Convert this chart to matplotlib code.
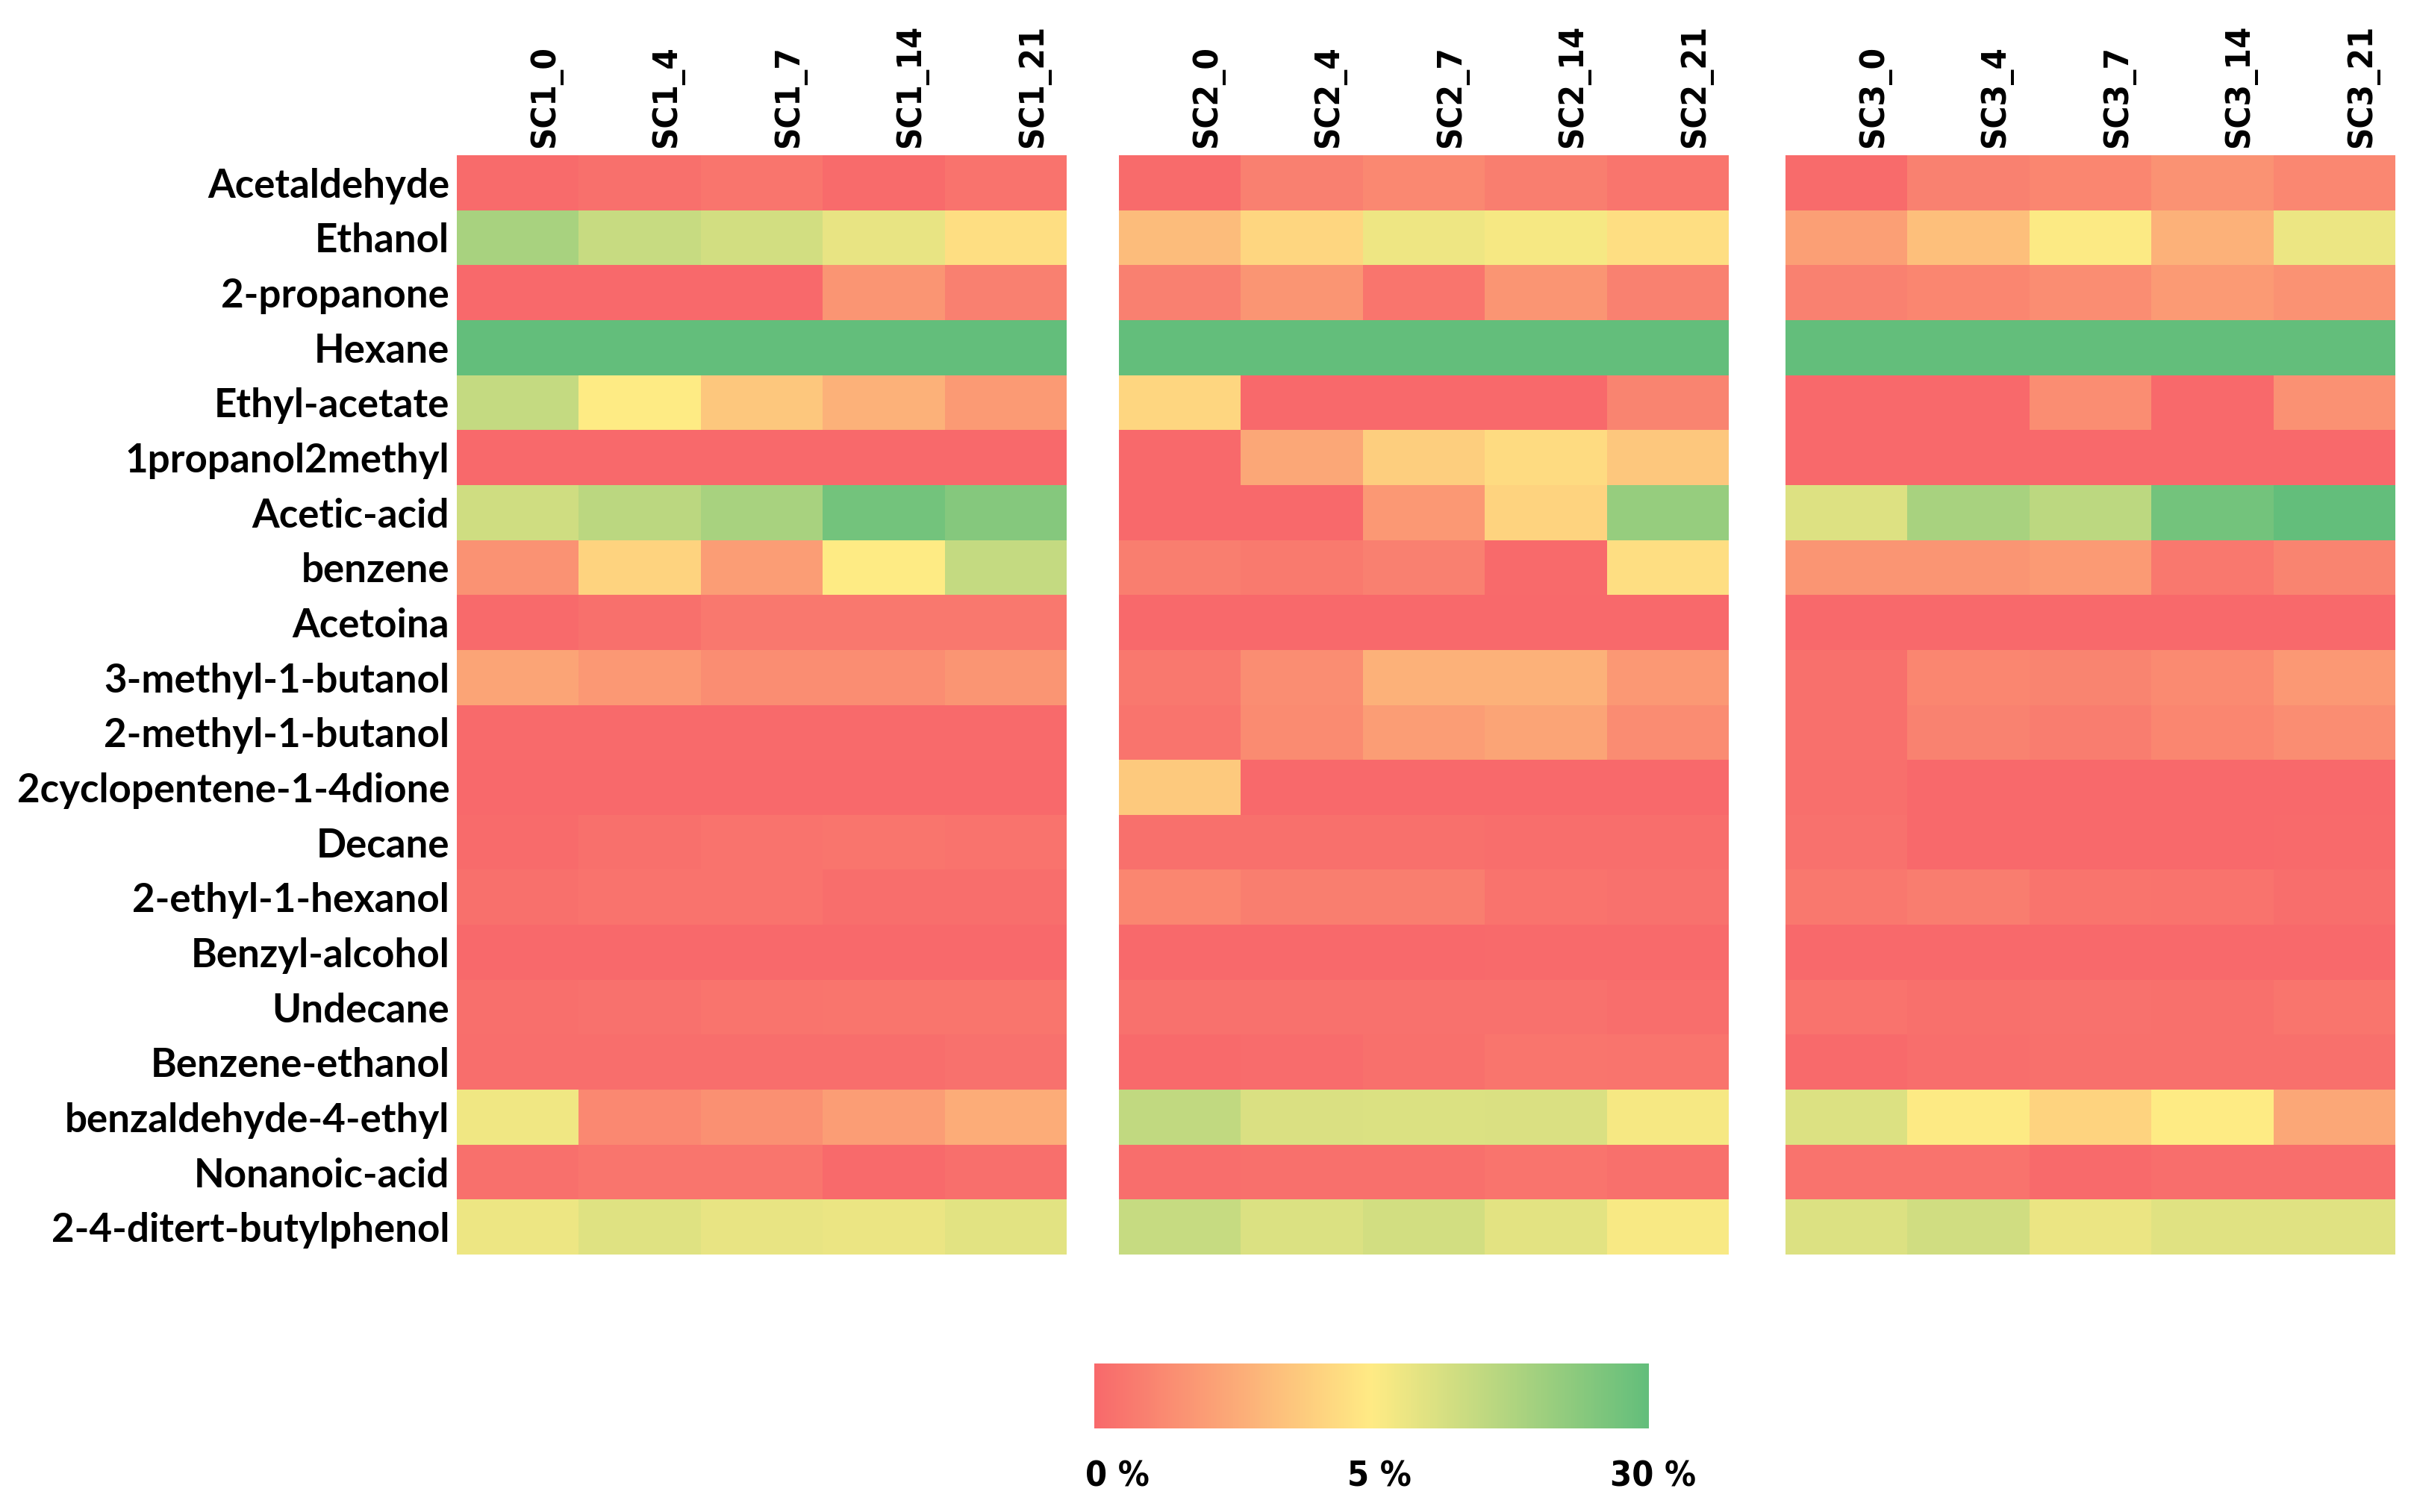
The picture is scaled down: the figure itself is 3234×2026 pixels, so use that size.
import numpy as np
import matplotlib
matplotlib.use("Agg")
import matplotlib.pyplot as plt
from matplotlib.colors import LinearSegmentedColormap, TwoSlopeNorm
from matplotlib import font_manager as fm

compounds = ["Acetaldehyde", "Ethanol", "2-propanone", "Hexane", "Ethyl-acetate",
             "1propanol2methyl", "Acetic-acid", "benzene", "Acetoina",
             "3-methyl-1-butanol", "2-methyl-1-butanol", "2cyclopentene-1-4dione",
             "Decane", "2-ethyl-1-hexanol", "Benzyl-alcohol", "Undecane",
             "Benzene-ethanol", "benzaldehyde-4-ethyl", "Nonanoic-acid",
             "2-4-ditert-butylphenol"]
groups = ["SC1", "SC2", "SC3"]
days = ["0", "4", "7", "14", "21"]

# relative abundance (%)
sc1 = [
    [0.1, 0.3, 0.5, 0.1, 0.4],
    [19, 13.8, 12.2, 8.7, 4.5],
    [0, 0, 0, 1.7, 0.9],
    [30, 30, 30, 30, 30],
    [14.5, 5.0, 3.6, 2.8, 1.9],
    [0, 0, 0, 0, 0],
    [12.8, 15.8, 19, 27.4, 24.5],
    [1.6, 4.1, 2.0, 5.0, 14.5],
    [0.05, 0.3, 0.6, 0.6, 0.6],
    [2.3, 1.8, 1.4, 1.4, 1.7],
    [0.05, 0.05, 0.05, 0.05, 0.05],
    [0, 0, 0, 0, 0],
    [0.1, 0.3, 0.4, 0.5, 0.4],
    [0.3, 0.4, 0.4, 0.2, 0.2],
    [0, 0, 0, 0, 0],
    [0.25, 0.35, 0.45, 0.5, 0.5],
    [0.2, 0.2, 0.2, 0.2, 0.35],
    [7.5, 1.2, 1.5, 2.0, 2.6],
    [0.3, 0.5, 0.5, 0.05, 0.25],
    [7.8, 10.2, 8.7, 8.3, 9.6],
]
sc2 = [
    [0.1, 0.9, 1.2, 0.85, 0.5],
    [3.2, 4.2, 7.7, 6.5, 4.5],
    [0.9, 1.7, 0.5, 1.7, 0.95],
    [30, 30, 30, 30, 30],
    [4.2, 0, 0, 0, 1.05],
    [0, 2.4, 3.9, 4.4, 3.6],
    [0, 0, 1.8, 4.1, 21.7],
    [0.85, 0.7, 0.9, 0.05, 4.5],
    [0, 0, 0, 0, 0],
    [0.6, 1.4, 2.8, 2.8, 1.8],
    [0.45, 1.3, 2.0, 2.3, 1.35],
    [3.7, 0, 0, 0, 0],
    [0.3, 0.3, 0.3, 0.2, 0.2],
    [1.1, 0.85, 0.85, 0.4, 0.35],
    [0, 0, 0, 0.05, 0.05],
    [0.35, 0.35, 0.35, 0.35, 0.2],
    [0.05, 0.15, 0.3, 0.5, 0.45],
    [14.8, 11, 10.8, 11, 6.5],
    [0.2, 0.3, 0.3, 0.45, 0.3],
    [14, 10.7, 12.2, 9.3, 6],
]
sc3 = [
    [0.1, 0.95, 1.1, 1.6, 1.15],
    [2.1, 3.3, 5.4, 2.8, 8],
    [0.95, 1.1, 1.4, 1.9, 1.6],
    [30, 30, 30, 30, 30],
    [0, 0, 1.4, 0, 1.55],
    [0, 0, 0, 0, 0],
    [10.3, 19, 15.6, 27.4, 30],
    [1.7, 1.7, 1.9, 0.6, 1.05],
    [0, 0, 0, 0, 0],
    [0.3, 1.1, 1.05, 1.25, 1.8],
    [0.3, 1.0, 0.8, 1.1, 1.4],
    [0.25, 0, 0, 0, 0],
    [0.35, 0, 0, 0, 0.05],
    [0.6, 0.8, 0.45, 0.4, 0.2],
    [0, 0, 0, 0, 0],
    [0.4, 0.3, 0.35, 0.3, 0.5],
    [0.05, 0.2, 0.3, 0.3, 0.3],
    [10.5, 5.2, 4.1, 5, 2.4],
    [0.4, 0.4, 0.05, 0.2, 0.2],
    [10.5, 12.5, 8.2, 10, 10],
]
scale_ticks = [0, 5, 30]
scale_labels = ["0 %", "5 %", "30 %"]

# ---------------- styling ----------------
names = {f.name for f in fm.fontManager.ttflist}
row_font = "Lato" if "Lato" in names else "Open Sans"
if "Liberation Sans Narrow" in names:
    narrow_kw = dict(family="Liberation Sans Narrow")
else:
    narrow_kw = dict(family="DejaVu Sans", fontstretch="condensed")

cmap = LinearSegmentedColormap.from_list("excel3", ["#F8696B", "#FFEB84", "#63BE7B"])
norm = TwoSlopeNorm(vmin=scale_ticks[0], vcenter=scale_ticks[1], vmax=scale_ticks[2])

W, H = 3234, 2026
fig = plt.figure(figsize=(W / 100, H / 100), dpi=100)
fig.patch.set_facecolor("white")

panel_left = [612, 1499, 2392]
panel_w = 817
top_px, bot_px = 208, 1681

mesh = None
col_texts = []
row_texts = []
for gi, (g, data, left) in enumerate(zip(groups, [sc1, sc2, sc3], panel_left)):
    ax = fig.add_axes([left / W, 1 - bot_px / H, panel_w / W, (bot_px - top_px) / H])
    arr = np.array(data, dtype=float)
    mesh = ax.pcolormesh(arr, cmap=cmap, norm=norm, edgecolors="none",
                         linewidth=0, antialiased=False)
    ax.set_xlim(0, len(days))
    ax.set_ylim(len(compounds), 0)
    ax.axis("off")
    for j, d in enumerate(days):
        t = ax.text(j + 0.727, -0.14, f"{g}_{d}", rotation=90, ha="center", va="bottom",
                    fontsize=30, fontweight="bold", color="black", **narrow_kw)
        col_texts.append(t)
    if gi == 0:
        for i, c in enumerate(compounds):
            t = ax.text(-0.06, i + 0.5, c, ha="right", va="center_baseline",
                        fontsize=36, fontweight="bold", family=row_font, color="black")
            row_texts.append(t)

# colour scale
cax = fig.add_axes([1466 / W, 1 - 1914 / H, (2209 - 1466) / W, (1914 - 1827) / H])
cb = fig.colorbar(mesh, cax=cax, orientation="horizontal", ticks=scale_ticks)
cb.outline.set_visible(False)
cax.tick_params(length=0, labelbottom=False)
label_pos = [0.042, 0.514, 1.008]
cb_texts = []
for p, lab in zip(label_pos, scale_labels):
    t = cax.text(p, -0.75, lab, transform=cax.transAxes, ha="center", va="center",
                 fontsize=38, fontweight="bold", color="black", **narrow_kw)
    cb_texts.append(t)

# fit text sizes to the measured pixel extents of the reference
fig.canvas.draw()
rend = fig.canvas.get_renderer()
ref_col = col_texts[3]            # "SC1_14": ~165 px long
h = ref_col.get_window_extent(rend).height
k = 165.0 / h
for t in col_texts:
    t.set_fontsize(t.get_fontsize() * k)
ref_row = row_texts[11]           # "2cyclopentene-1-4dione": ~579 px wide
w = ref_row.get_window_extent(rend).width
k = 579.0 / w
for t in row_texts:
    t.set_fontsize(t.get_fontsize() * k)
w = cb_texts[2].get_window_extent(rend).width   # "30 %": ~115 px wide
k = 115.0 / w
for t in cb_texts:
    t.set_fontsize(t.get_fontsize() * k)

fig.savefig("out.png", dpi=100, facecolor="white")
